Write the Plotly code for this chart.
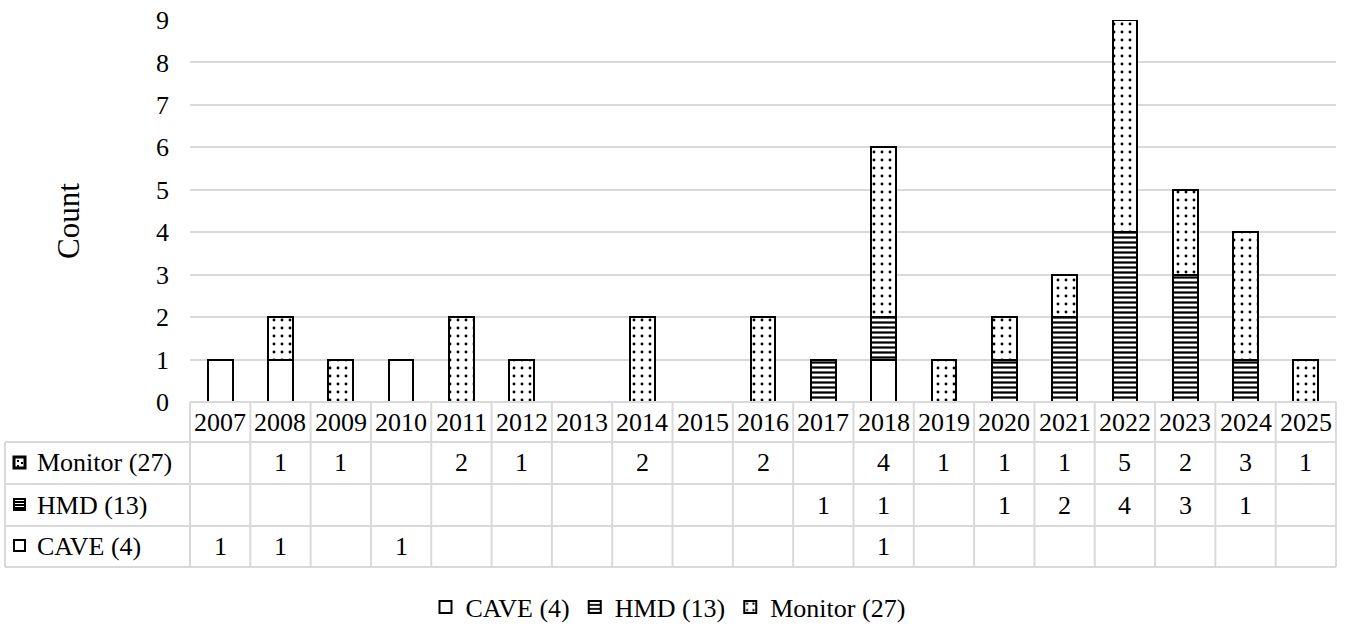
import plotly.graph_objects as go

# Publications per year, split by display type
years = [str(y) for y in range(2007, 2026)]
cave = [1, 1, 0, 1, 0, 0, 0, 0, 0, 0, 0, 1, 0, 0, 0, 0, 0, 0, 0]
hmd = [0, 0, 0, 0, 0, 0, 0, 0, 0, 0, 1, 1, 0, 1, 2, 4, 3, 1, 0]
monitor = [0, 1, 1, 0, 2, 1, 0, 2, 0, 2, 0, 4, 1, 1, 1, 5, 2, 3, 1]
y_ticks = list(range(0, 10))

names = {
    "cave": f"CAVE ({sum(cave)})",
    "hmd": f"HMD ({sum(hmd)})",
    "monitor": f"Monitor ({sum(monitor)})",
}

W, H = 1346, 627
L, R, T, B = 190, 10, 20, 225
PW, PH = W - L - R, H - T - B
FONT = "Liberation Serif, Times New Roman, serif"
GRID = "#d9d9d9"


def px(xp):
    return (xp - L) / PW


def py(yp):
    return (H - B - yp) / PH


def nz(vals):
    return [v if v else None for v in vals]


fig = go.Figure()
fig.add_bar(
    x=years, y=nz(cave), name=names["cave"],
    marker=dict(color="white", line=dict(color="black", width=2)),
)
fig.add_bar(
    x=years, y=nz(hmd), name=names["hmd"],
    marker=dict(color="white", line=dict(color="black", width=2),
                pattern=dict(shape="-", size=5, solidity=0.45,
                             fgcolor="black", bgcolor="white", fgopacity=1)),
)
fig.add_bar(
    x=years, y=nz(monitor), name=names["monitor"],
    marker=dict(color="white", line=dict(color="black", width=2),
                pattern=dict(shape=".", size=8, solidity=0.1,
                             fgcolor="black", bgcolor="white", fgopacity=1)),
)

shapes = []
annotations = []
line = dict(color=GRID, width=2)
n = len(years)


def col_center(i):
    return (i + 0.5) / n


def label(x, y, text, size=26, xanchor="center", **kw):
    annotations.append(dict(x=x, xref="paper", y=y, yref="paper", text=text,
                            showarrow=False, xanchor=xanchor, yanchor="middle",
                            font=dict(size=size, color="black", family=FONT), **kw))


# data table grid
row_edges = [402, 442, 484, 526, 567]
shapes.append(dict(type="line", xref="paper", yref="paper", x0=0, x1=1,
                   y0=py(row_edges[0]), y1=py(row_edges[0]), line=line))
for ye in row_edges[1:]:
    shapes.append(dict(type="line", xref="paper", yref="paper", x0=px(5), x1=1,
                       y0=py(ye), y1=py(ye), line=line))
shapes.append(dict(type="line", xref="paper", yref="paper", x0=px(5), x1=px(5),
                   y0=py(row_edges[1]), y1=py(row_edges[-1]), line=line))
for k in range(n + 1):
    shapes.append(dict(type="line", xref="paper", yref="paper", x0=k / n, x1=k / n,
                       y0=py(row_edges[0]), y1=py(row_edges[-1]), line=line))

# header years
for i, yr in enumerate(years):
    label(col_center(i), py(422), yr)

# table rows: label, icon, values
rows = [("monitor", monitor, 463), ("hmd", hmd, 505), ("cave", cave, 546)]
for key, vals, yc in rows:
    label(px(35), py(yc), names[key], xanchor="left")
    for i, v in enumerate(vals):
        if v:
            label(col_center(i), py(yc), str(v))
    # key icon
    x0, x1 = 14, 25
    y0, y1 = yc - 6, yc + 5
    shapes.append(dict(type="rect", xref="paper", yref="paper",
                       x0=px(x0), x1=px(x1), y0=py(y0), y1=py(y1),
                       line=dict(color="black", width=2), fillcolor="white"))
    if key == "hmd":
        for yy in (yc - 3, yc, yc + 3):
            shapes.append(dict(type="line", xref="paper", yref="paper",
                               x0=px(x0), x1=px(x1), y0=py(yy), y1=py(yy),
                               line=dict(color="black", width=2)))
    if key == "monitor":
        shapes.append(dict(type="rect", xref="paper", yref="paper",
                           x0=px(x0), x1=px(x1), y0=py(y0), y1=py(y1),
                           line=dict(color="black", width=3), fillcolor="white"))
        for dx, dy in ((17, yc - 3), (21, yc - 1), (17, yc + 2)):
            shapes.append(dict(type="rect", xref="paper", yref="paper",
                               x0=px(dx), x1=px(dx + 2), y0=py(dy), y1=py(dy + 2),
                               line=dict(width=0), fillcolor="black"))

label(px(68), py(221), "Count", size=31, textangle=-90)

fig.update_layout(
    width=W, height=H,
    margin=dict(l=L, r=R, t=T, b=B, autoexpand=False),
    barmode="stack", bargap=0.59,
    plot_bgcolor="white", paper_bgcolor="white",
    font=dict(family=FONT, color="black", size=26),
    shapes=shapes, annotations=annotations,
    legend=dict(orientation="h", x=px(668), xanchor="center", y=py(607),
                yanchor="middle", font=dict(size=26, family=FONT, color="black"),
                itemwidth=30, traceorder="normal"),
    xaxis=dict(type="category", range=[-0.5, n - 0.5], showticklabels=False,
               showgrid=False, zeroline=False, showline=False, ticks=""),
    yaxis=dict(range=[0, 9], tickvals=y_ticks, showgrid=True, gridcolor=GRID,
               gridwidth=2, zeroline=False, showline=False, ticks="",
               ticklabelstandoff=20, tickfont=dict(size=26, family=FONT, color="black")),
)

fig.write_html("out.html")
